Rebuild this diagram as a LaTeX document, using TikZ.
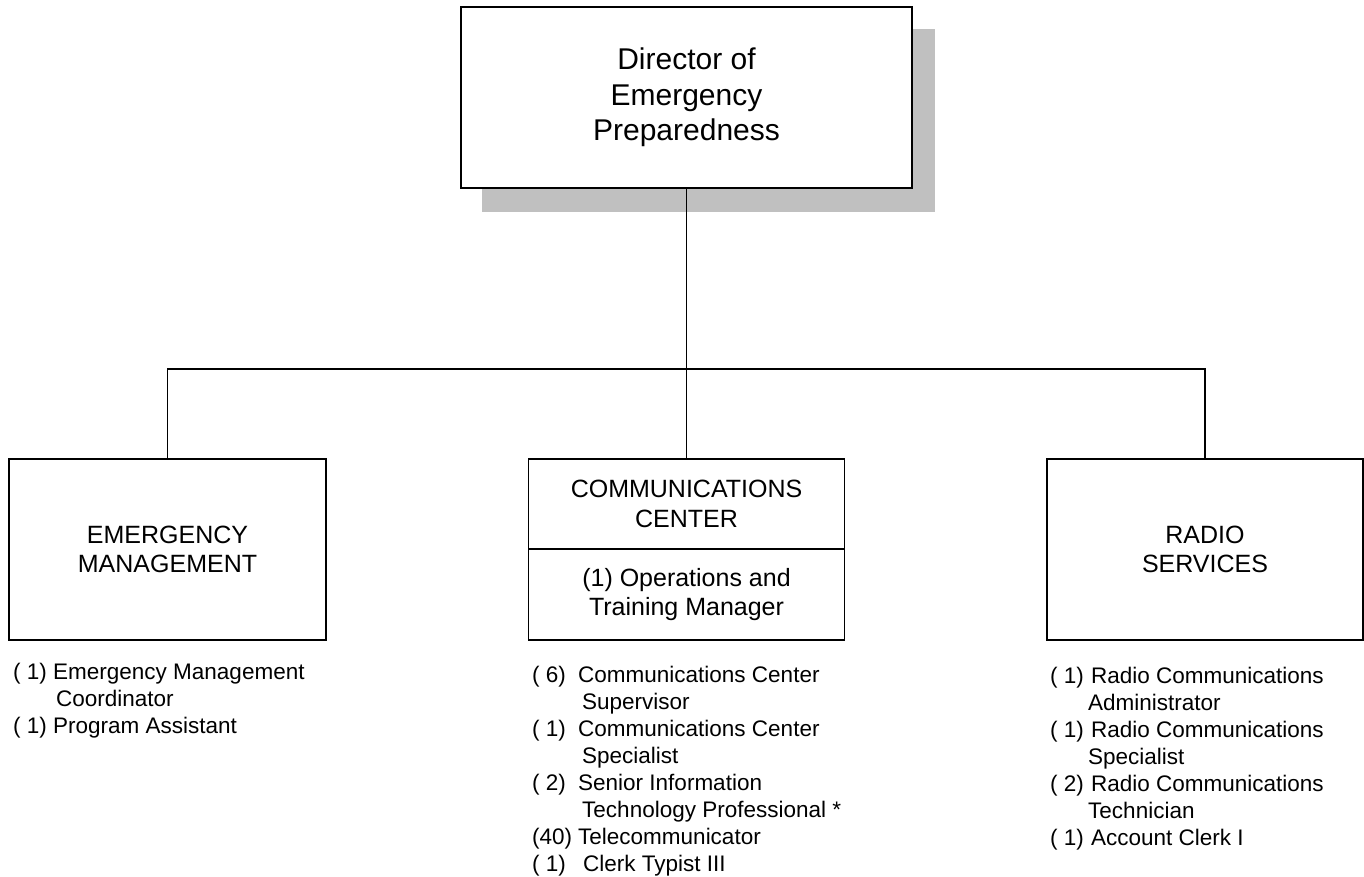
\documentclass[tikz,border=0pt]{standalone}
\usepackage{fontspec}
\setmainfont{Liberation Sans}
\begin{document}
\begin{tikzpicture}[x=1pt,y=-1pt,
  box/.style={draw=black,line width=1.7pt,fill=white,align=center,inner sep=0pt},
  dirfont/.style={font=\fontsize{30}{35.5}\selectfont},
  boxfont/.style={font=\fontsize{25}{29.5}\selectfont},
  listtext/.style={anchor=north west,align=left,inner sep=0pt,font=\fontsize{22.5}{27}\selectfont},
  conn/.style={line width=1.7pt}]
\useasboundingbox (0,0) rectangle (1364,877);
% shadow of director box
\fill[fill={rgb,255:red,192;green,192;blue,192}] (482,29) rectangle (935,212);
% director
\node[box,dirfont,minimum width=451pt,minimum height=181pt] (dir) at (686.5,97.5)
  {Director of\\Emergency\\Preparedness};
% divisions
\node[box,boxfont,minimum width=317pt,minimum height=181pt] (em) at (167.5,549.5)
  {EMERGENCY\\MANAGEMENT};
\node[box,boxfont,minimum width=316pt,minimum height=90pt] (cctop) at (686.5,504)
  {COMMUNICATIONS\\CENTER};
\node[box,boxfont,minimum width=316pt,minimum height=91pt] (ccbot) at (686.5,594.5)
  {(1) Operations and\\Training Manager};
\node[box,boxfont,minimum width=316pt,minimum height=181pt] (rs) at (1205,549.5)
  {RADIO\\SERVICES};
% connectors
\coordinate (bus) at (686.5,369);
\draw[conn] (dir.south) -- (bus);
\draw[conn] (em.north) |- (bus) -| (rs.north);
\draw[conn] (bus) -- (cctop.north);
% staff lists
\node[listtext] (emlist) at (13,660)
  {\strut\makebox[40pt][l]{( 1)}Emergency Management\\
   \hspace*{43pt}Coordinator\\
   \makebox[40pt][l]{( 1)}Program Assistant};
\node[listtext] (cclist) at (532,663)
  {\strut\makebox[46pt][l]{( 6)}Communications Center\\
   \hspace*{50pt}Supervisor\\
   \makebox[46pt][l]{( 1)}Communications Center\\
   \hspace*{50pt}Specialist\\
   \makebox[46pt][l]{( 2)}Senior Information\\
   \hspace*{50pt}Technology Professional *\\
   \makebox[46pt][l]{(40)}Telecommunicator\\
   \makebox[51pt][l]{( 1)}Clerk Typist III};
\node[listtext] (rslist) at (1050,664)
  {\strut\makebox[41pt][l]{( 1)}Radio Communications\\
   \hspace*{38pt}Administrator\\
   \makebox[41pt][l]{( 1)}Radio Communications\\
   \hspace*{38pt}Specialist\\
   \makebox[41pt][l]{( 2)}Radio Communications\\
   \hspace*{38pt}Technician\\
   \makebox[41pt][l]{( 1)}Account Clerk I};
\end{tikzpicture}
\end{document}
